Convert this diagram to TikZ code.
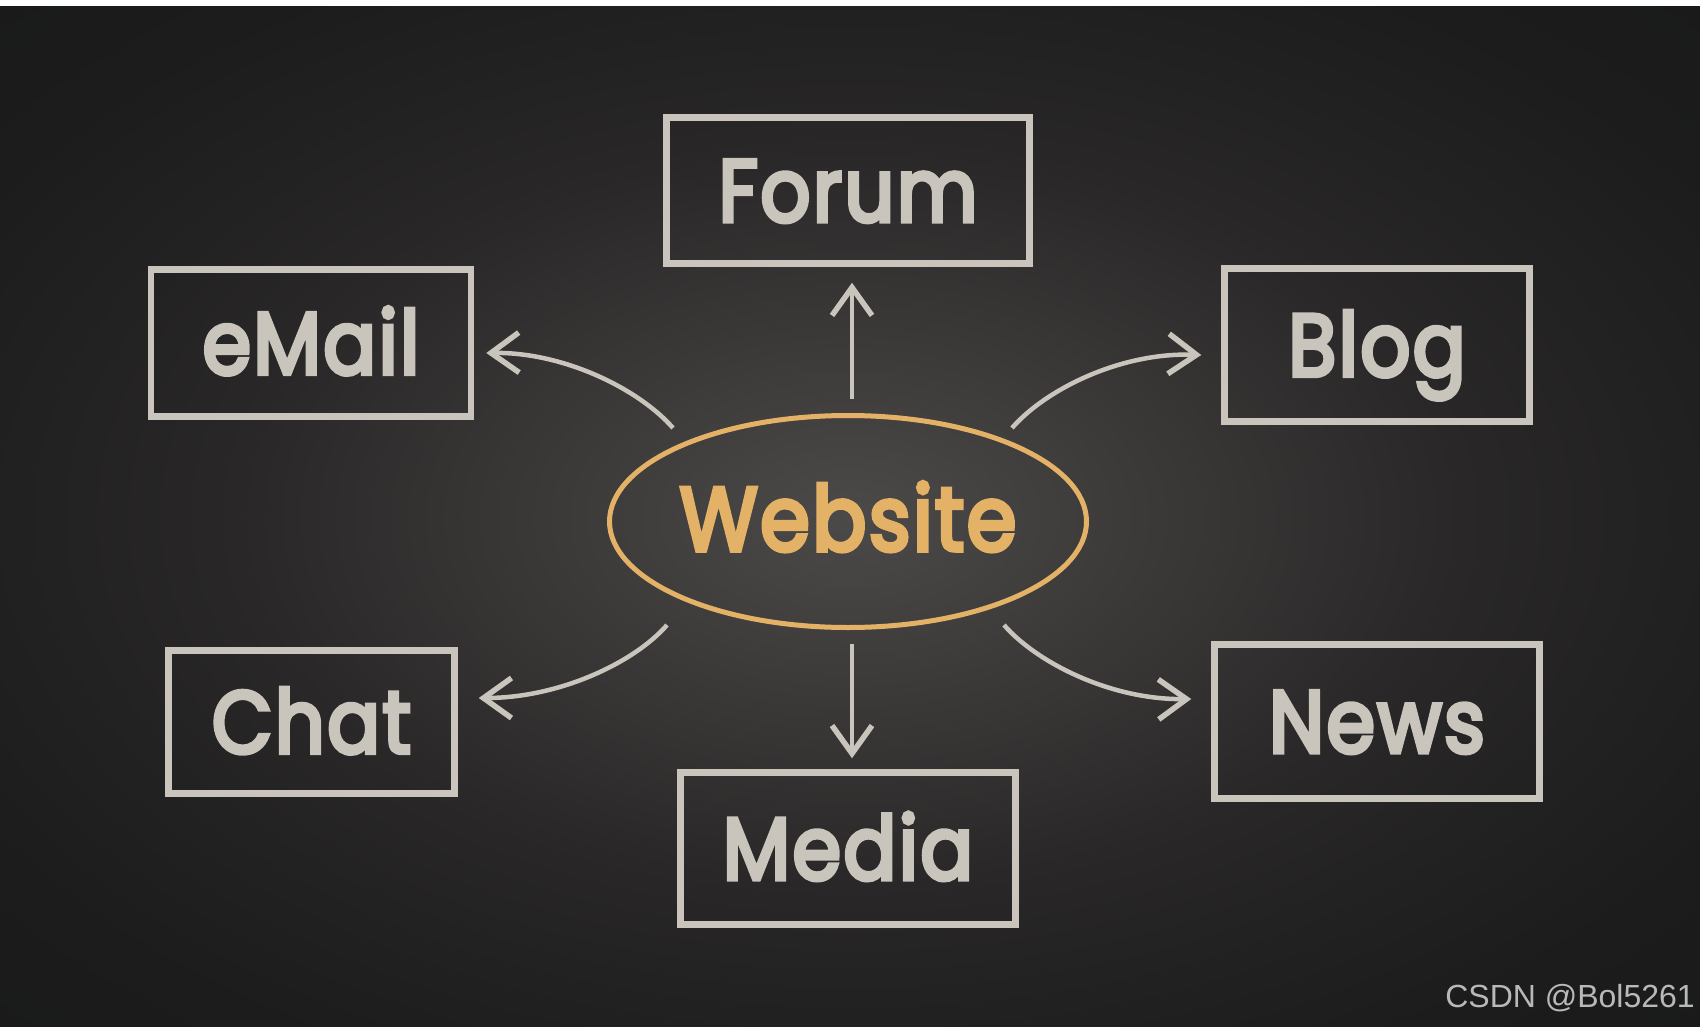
\documentclass[tikz,border=0pt]{standalone}
\usepackage{fontspec}
\setmainfont{Liberation Sans}
\newfontfamily\chalkfont{Poppins}[FakeBold=5,LetterSpace=3]
\usetikzlibrary{shapes.geometric,arrows.meta,calc}
\definecolor{chalk}{HTML}{C9C5BD}
\definecolor{gold}{HTML}{E3B266}
\definecolor{bgedge}{HTML}{161717}
\definecolor{bgouter}{HTML}{1C1C1C}
\definecolor{bgmid}{HTML}{292727}
\definecolor{bgin}{HTML}{3D3A3A}
\definecolor{bgcenter}{HTML}{4C4949}
\definecolor{wm}{HTML}{B9B9B9}
\pgfdeclareradialshading{board}{\pgfpoint{0bp}{0bp}}{color(0bp)=(bgcenter); color(8bp)=(bgin); color(18bp)=(bgmid); color(30bp)=(bgouter); color(45bp)=(bgedge); color(50bp)=(bgedge)}
\newcommand\chalktext[1]{\scalebox{0.89}[1]{#1}}
\tikzset{
  chalkbox/.style={draw=chalk, line width=6.5pt, inner sep=0pt, text=chalk,
    font=\chalkfont\fontsize{88}{88}\selectfont, text height=62pt, text depth=0pt},
  hub/.style={ellipse, draw=gold, line width=5pt, inner sep=0pt},
  hubtext/.style={text=gold, inner sep=0pt,
    font=\chalkfont\fontsize{90}{90}\selectfont, text height=63pt, text depth=0pt},
  arr/.style={draw=chalk, line width=4.5pt, -{Straight Barb[length=28pt,width=40pt,line width=5.5pt]}},
  wmstyle/.style={text=wm, font=\fontsize{32}{32}\selectfont, inner sep=0pt}
}
\begin{document}
\begin{tikzpicture}[x=1pt,y=-1pt]
\useasboundingbox (0,0) rectangle (1700,1027);
\fill[white] (0,0) rectangle (1700,7);
\shade[shading=board] (0,7) rectangle (1700,1027);

\node[hub, minimum width=477pt, minimum height=212pt] (web) at (848,521.5) {};
\node[hubtext] (webtext) at (848,519) {\chalktext{Website}};

\node[chalkbox, minimum width=363pt, minimum height=146pt] (forum) at (848,190.5) {\chalktext{Forum}};
\node[chalkbox, minimum width=320pt, minimum height=147pt] (email) at (311,343) {\chalktext{eMail}};
\node[chalkbox, minimum width=305pt, minimum height=153pt] (blog) at (1377,345) {\chalktext{Blog}};
\node[chalkbox, minimum width=286pt, minimum height=143pt] (chat) at (311.5,722) {\chalktext{Chat}};
\node[chalkbox, minimum width=325pt, minimum height=154pt] (news) at (1377,721.5) {\chalktext{News}};
\node[chalkbox, minimum width=335pt, minimum height=152pt] (media) at (848,848.5) {\chalktext{Media}};

\draw[arr] ($(web.north)+(4,-14)$) -- ($(forum.south)+(4,16)$);
\draw[arr] ($(web.south)+(4,14)$) -- ($(media.north)+(4,-11)$);
\draw[arr] ($(web.center)+(-175,-93.5)$) .. controls (640,390) and (565,352) .. ($(email.east)+(12,10)$);
\draw[arr] ($(web.center)+(164,-93.5)$) .. controls (1045,390) and (1120,352) .. ($(blog.west)+(-20,10)$);
\draw[arr] ($(web.center)+(-181,103.5)$) .. controls (635,662) and (560,698) .. ($(chat.east)+(21,-24)$);
\draw[arr] ($(web.center)+(156,103.5)$) .. controls (1036,662) and (1110,700) .. ($(news.west)+(-20,-22.5)$);

\node[wmstyle, anchor=base east] (wmark) at (1695,1007) {CSDN @Bol5261};
\end{tikzpicture}
\end{document}
